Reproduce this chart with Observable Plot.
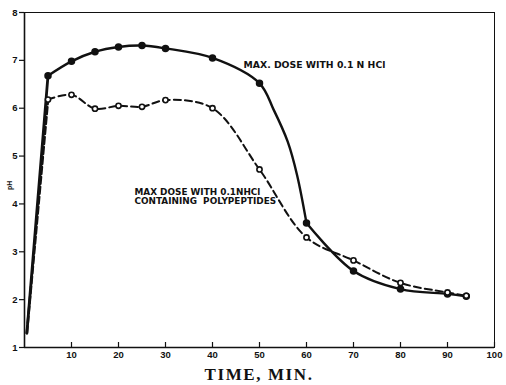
<!DOCTYPE html>
<html>
<head>
<meta charset="utf-8">
<script src="https://cdn.jsdelivr.net/npm/d3@7"></script>
<script src="https://cdn.jsdelivr.net/npm/@observablehq/plot@0.6"></script>
<style>
  html, body { margin: 0; padding: 0; background: #fff; }
  #chart { position: relative; width: 506px; height: 385px; }
  #xtitle { position: absolute; left: 0; width: 518px; top: 364px; text-align: center;
    font-family: "Liberation Serif", "DejaVu Serif", serif; font-weight: bold; font-size: 17px;
    letter-spacing: 1.6px; line-height: 22px; color: #111; }
</style>
</head>
<body>
<div id="chart"></div>
<script>
// Time (min) and pH values
const time = [0.5, 5, 10, 15, 20, 25, 30, 40, 50, 60, 70, 80, 90, 94];
const phHCl = [1.3, 6.68, 6.98, 7.18, 7.28, 7.31, 7.25, 7.05, 6.52, 3.6, 2.6, 2.22, 2.12, 2.07];
const phPoly = [1.3, 6.18, 6.28, 5.99, 6.05, 6.03, 6.17, 6.0, 4.72, 3.3, 2.82, 2.35, 2.15, 2.08];
// points traced along the drawn solid curve between 50 and 60 min (no markers)
const hclTraceTime = [53, 56, 58];
const hclTracePH = [5.97, 5.3, 4.6];
const xTicks = [10, 20, 30, 40, 50, 60, 70, 80, 90, 100];
const yTicks = [1, 2, 3, 4, 5, 6, 7, 8];
const labelHCl = "MAX. DOSE WITH 0.1 N HCl";
const labelPoly = "MAX DOSE WITH 0.1NHCl\nCONTAINING  POLYPEPTIDES";
const xTitle = "TIME, MIN.";
const yTitle = "pH";

const hcl = time.map((t, i) => ({t, v: phHCl[i], measured: true}));
const hclTrace = hclTraceTime.map((t, i) => ({t, v: hclTracePH[i], measured: false}));
const hclPath = hcl.concat(hclTrace).sort((a, b) => a.t - b.t);
const poly = time.map((t, i) => ({t, v: phPoly[i]}));
const t0 = time[0], t1 = time[1], tKink = time[9]; // rise segment end, sharp bend at 60 min

const annotFont = "'DejaVu Sans', Verdana, sans-serif";

const plot = Plot.plot({
  width: 506,
  height: 365,
  marginTop: 12,
  marginRight: 12,
  marginBottom: 18,
  marginLeft: 24,
  x: {domain: [0, 100]},
  y: {domain: [1, 8]},
  style: {fontFamily: "'Liberation Sans', Arial, sans-serif", background: "#fff", color: "#111"},
  marks: [
    Plot.frame({stroke: "#111", strokeWidth: 1}),
    Plot.ruleX([0], {stroke: "#111", strokeWidth: 1.6}),
    Plot.ruleY([1], {stroke: "#111", strokeWidth: 1.6}),
    Plot.axisX({ticks: xTicks, tickSize: -5, tickPadding: 9, tickFormat: "d", fontSize: 9.5, fontWeight: "bold", label: null, strokeWidth: 1.2}),
    Plot.axisY({ticks: yTicks, tickSize: 5, tickPadding: 2, tickFormat: "d", fontSize: 9.5, fontWeight: "bold", label: null, strokeWidth: 1.2}),
    Plot.text([yTitle], {frameAnchor: "left", rotate: -90, dx: -15, dy: 10, fontSize: 7, fontWeight: "bold"}),
    // solid curve
    Plot.line(hclPath.filter(d => d.t <= t1), {x: "t", y: "v", stroke: "#111", strokeWidth: 2.8}),
    Plot.line(hclPath.filter(d => d.t >= t1 && d.t <= tKink), {x: "t", y: "v", stroke: "#111", strokeWidth: 2.4, curve: "catmull-rom"}),
    Plot.line(hclPath.filter(d => d.t >= tKink), {x: "t", y: "v", stroke: "#111", strokeWidth: 2.4, curve: "catmull-rom"}),
    // dashed curve
    Plot.line(poly.filter(d => d.t <= t1), {x: "t", y: "v", stroke: "#111", strokeWidth: 2.6, strokeDasharray: "7,3"}),
    Plot.line(poly.filter(d => d.t >= t1), {x: "t", y: "v", stroke: "#111", strokeWidth: 2.0, strokeDasharray: "7,4", curve: "catmull-rom"}),
    // markers
    Plot.dot(hcl.filter(d => d.t > t0), {x: "t", y: "v", r: 3, fill: "#111", stroke: "#111"}),
    Plot.dot(poly.filter(d => d.t > t0), {x: "t", y: "v", r: 2.6, fill: "#fff", stroke: "#111", strokeWidth: 1.6}),
    // annotations
    Plot.text([labelHCl], {x: 46.6, y: 6.91, textAnchor: "start", fontSize: 9.3, fontWeight: "bold", fontFamily: annotFont}),
    Plot.text([labelPoly], {x: 23.4, y: 4.16, textAnchor: "start", fontSize: 8.9, fontWeight: "bold", lineHeight: 1.08, fontFamily: annotFont})
  ]
});

const chart = document.getElementById("chart");
chart.appendChild(plot);
const tt = document.createElement("div");
tt.id = "xtitle";
tt.textContent = xTitle;
chart.appendChild(tt);
</script>
</body>
</html>
